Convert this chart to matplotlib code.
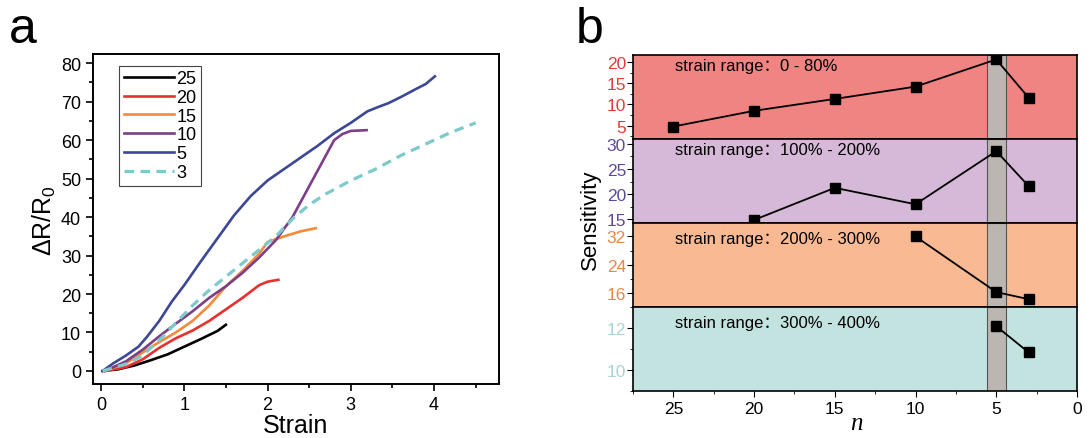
import matplotlib
matplotlib.use('Agg')
import matplotlib.pyplot as plt
from matplotlib.ticker import MultipleLocator

plt.rcParams['font.family'] = ['Liberation Sans', 'Noto Sans CJK SC', 'DejaVu Sans']
plt.rcParams['mathtext.fontset'] = 'custom'
plt.rcParams['mathtext.rm'] = 'Liberation Sans'
plt.rcParams['mathtext.it'] = 'Liberation Sans:italic'

# ---------- panel a data ----------
labels_a = ['25', '20', '15', '10', '5', '3']

strain_25 = [0.02, 0.2, 0.4, 0.6, 0.8, 1.0, 1.2, 1.4, 1.5]
resp_25 = [0, 0.4, 1.4, 2.8, 4.3, 6.3, 8.3, 10.4, 12.0]

strain_20 = [0.05, 0.3, 0.5, 0.7, 0.9, 1.1, 1.3, 1.5, 1.7, 1.9, 2.0, 2.13]
resp_20 = [0, 1.0, 3.0, 6.0, 8.5, 10.5, 13, 16, 19, 22.3, 23.2, 23.7]

strain_15 = [0.05, 0.3, 0.5, 0.7, 0.9, 1.1, 1.3, 1.5, 1.7, 1.9, 2.0, 2.2, 2.4, 2.58]
resp_15 = [0, 2, 4.8, 7.5, 10, 13, 17, 22, 26, 30.5, 33.5, 35, 36.3, 37.1]

strain_10 = [0.05, 0.3, 0.5, 0.7, 0.9, 1.1, 1.3, 1.5, 1.7, 1.9, 2.1, 2.3, 2.5, 2.7, 2.8, 2.9, 3.0, 3.19]
resp_10 = [0, 2.5, 5.5, 9, 12.3, 15.5, 19, 22, 25.5, 29.5, 34, 40, 48, 56, 60, 61.6, 62.4, 62.6]

strain_5 = [0.02, 0.15, 0.3, 0.45, 0.55, 0.7, 0.85, 1.0, 1.2, 1.4, 1.6, 1.8, 2.0, 2.2, 2.4, 2.6,
            2.8, 3.0, 3.2, 3.35, 3.45, 3.6, 3.8, 3.9, 4.01]
resp_5 = [0, 2, 4, 6.3, 8.8, 13, 18, 22.3, 28.5, 34.5, 40.5, 45.5, 49.5, 52.5, 55.5, 58.5,
          61.8, 64.5, 67.5, 68.8, 69.6, 71.2, 73.5, 74.6, 76.6]

strain_3 = [0.02, 0.3, 0.5, 0.7, 0.9, 1.1, 1.3, 1.5, 1.7, 1.9, 2.1, 2.3, 2.5, 2.7, 3.0,
            3.3, 3.6, 3.9, 4.2, 4.5]
resp_3 = [0, 1.8, 4, 8, 12.5, 17, 21, 24.5, 28, 31.5, 35, 39.5, 43.2, 46, 49.5,
          52.5, 56, 59, 62, 64.5]

# ---------- panel b data ----------
n_1 = [25, 20, 15, 10, 5, 3]
sens_1 = [4.8, 8.5, 11.3, 14.2, 20.6, 11.6]
n_2 = [20, 15, 10, 5, 3]
sens_2 = [14.9, 21.25, 18.0, 28.5, 21.6]
n_3 = [10, 5, 3]
sens_3 = [32, 16.35, 14.35]
n_4 = [5, 3]
sens_4 = [12.08, 10.83]

ranges_b = ['strain range：0 - 80%', 'strain range：100% - 200%',
            'strain range：200% - 300%', 'strain range：300% - 400%']

fig = plt.figure(figsize=(10.91, 4.39), dpi=100)

# ================================
# Panel a
# ================================
ax = fig.add_axes([0.0852, 0.123, 0.3722, 0.7517])
cores = ['black', '#e8312f', '#f58a3a', '#7b3f88', '#3c4896', '#7ec9c9']
curvas = [(strain_25, resp_25), (strain_20, resp_20), (strain_15, resp_15),
          (strain_10, resp_10), (strain_5, resp_5), (strain_3, resp_3)]
for i, (xs, ys) in enumerate(curvas):
    if labels_a[i] == '3':
        ax.plot(xs, ys, color=cores[i], lw=2.3, ls=(0, (3, 2)), label=labels_a[i])
    else:
        ax.plot(xs, ys, color=cores[i], lw=1.9, label=labels_a[i])

ax.set_xlim(-0.096, 4.78)
ax.set_ylim(-3.4, 82.4)
ax.xaxis.set_major_locator(MultipleLocator(1))
ax.xaxis.set_minor_locator(MultipleLocator(0.5))
ax.yaxis.set_major_locator(MultipleLocator(10))
ax.yaxis.set_minor_locator(MultipleLocator(5))
ax.tick_params(which='both', direction='out', labelsize=13, width=1.2)
ax.tick_params(which='major', length=5)
ax.tick_params(which='minor', length=3)
for s in ax.spines.values():
    s.set_linewidth(1.4)
ax.set_xlabel('Strain', fontsize=18, labelpad=0)
ax.set_ylabel('ΔR/R$_0$', fontsize=18, labelpad=2)
leg = ax.legend(loc='upper left', bbox_to_anchor=(0.065, 0.965), fontsize=13,
                handlelength=2.8, handletextpad=0.1, labelspacing=0.1,
                borderpad=0.25, borderaxespad=0, fancybox=False, framealpha=1)
leg.get_frame().set_edgecolor('#444444')
leg.get_frame().set_linewidth(0.8)
fig.text(0.008, 0.985, 'a', fontsize=36, va='top', ha='left')

# ================================
# Panel b
# ================================
fundos = ['#f08482', '#d6b9d8', '#f9ba93', '#c3e3e1']
cores_tick = ['#e23c3c', '#5b4a9b', '#e8894a', '#a8d4d4']
dados_b = [(n_1, sens_1), (n_2, sens_2), (n_3, sens_3), (n_4, sens_4)]
limites = [(1.86, 21.65), (14.3, 30.9), (12.15, 35.8), (8.98, 13.0)]
maj = [5, 5, 8, 2]
mino = [2.5, 2.5, 4, 1]
altura = 84 / 439
esq = 633 / 1091
larg = 444 / 1091

eixos = []
for k in range(4):
    base = 1 - (140 + 84 * k) / 439
    a = fig.add_axes([esq, base, larg, altura])
    a.set_facecolor(fundos[k])
    a.axvspan(4.4, 5.6, facecolor='#bcb6b2', edgecolor='#555555', lw=0.8, zorder=1)
    xs, ys = dados_b[k]
    a.plot(xs, ys, color='black', lw=1.3, marker='s', ms=7, zorder=3)
    a.set_xlim(27.5, 0)
    a.set_ylim(*limites[k])
    a.yaxis.set_major_locator(MultipleLocator(maj[k]))
    a.yaxis.set_minor_locator(MultipleLocator(mino[k]))
    a.xaxis.set_major_locator(MultipleLocator(5))
    a.xaxis.set_minor_locator(MultipleLocator(2.5))
    a.tick_params(axis='y', which='both', direction='out', labelsize=12.5,
                  labelcolor=cores_tick[k], pad=1)
    a.tick_params(which='major', length=4)
    a.tick_params(which='minor', length=2)
    if k < 3:
        a.tick_params(axis='x', which='both', bottom=False, labelbottom=False)
    else:
        a.tick_params(axis='x', which='both', direction='out', labelsize=12.5)
    for s in a.spines.values():
        s.set_linewidth(1.2)
    ty = 0.88 if k < 2 else 0.82
    a.text(0.095, ty, ranges_b[k], transform=a.transAxes, fontsize=12,
           va='center', ha='left', zorder=4)
    eixos.append(a)

fig.text(0.7845, 0.035, 'n', fontsize=18, family='Liberation Serif', style='italic',
         ha='center', va='center')
fig.text(0.541, 0.5, 'Sensitivity', fontsize=16, rotation=90, va='center', ha='center')
fig.text(0.528, 0.985, 'b', fontsize=36, va='top', ha='left')

plt.savefig('out.png', dpi=100)
